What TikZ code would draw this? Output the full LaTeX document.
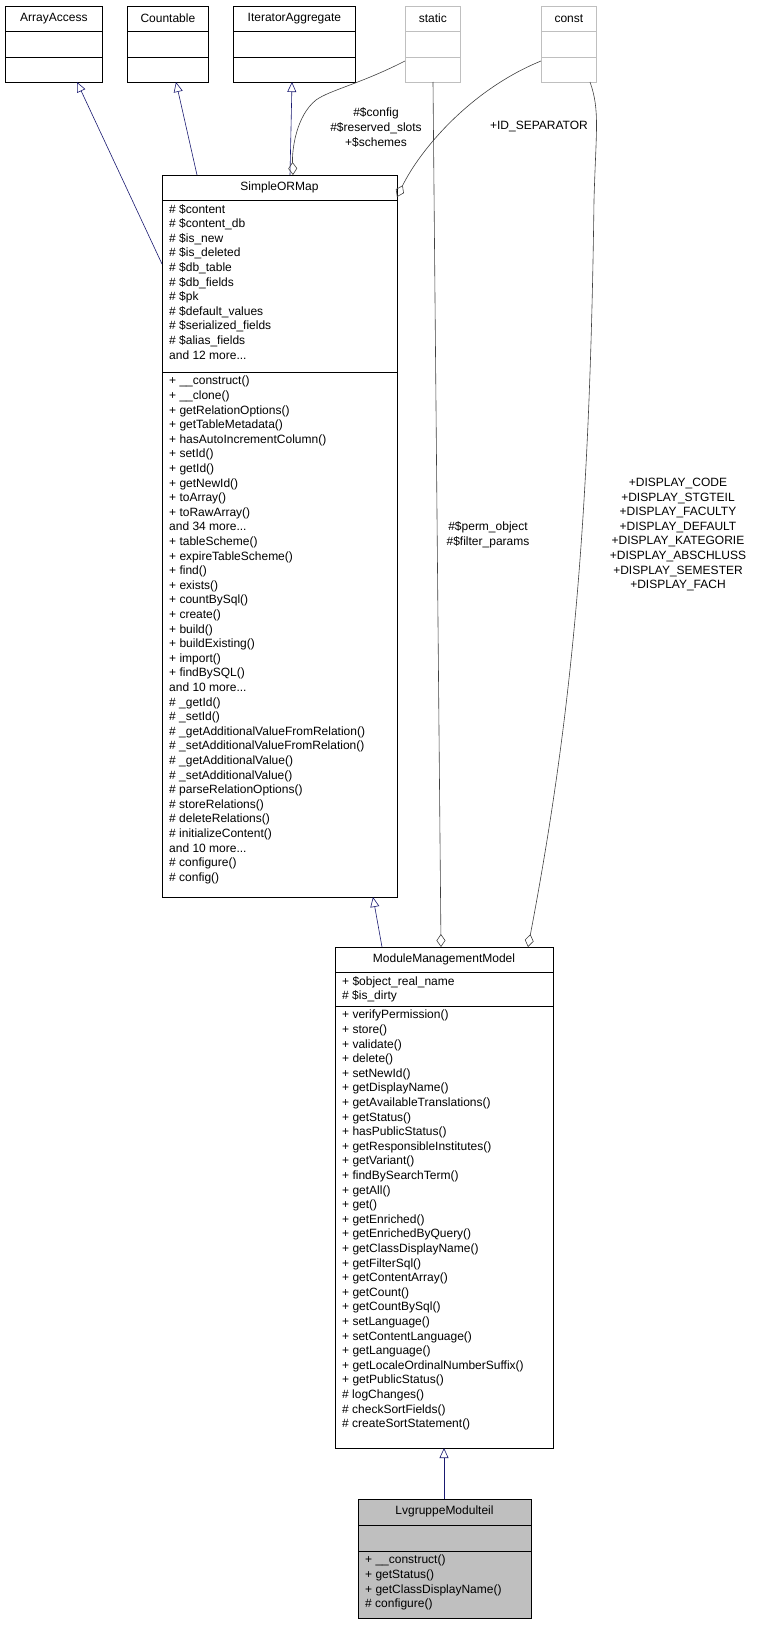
\documentclass[tikz,border=0pt]{standalone}
\usepackage{fontspec}
\setmainfont{Liberation Sans}
\usetikzlibrary{arrows.meta}
\definecolor{inhcol}{HTML}{191970}
\definecolor{aggcol}{HTML}{404040}
\definecolor{ghost}{HTML}{BFBFBF}
\tikzset{
  umlbox/.style={draw=black, thick, inner sep=0pt, anchor=north west},
  ghostbox/.style={draw=ghost, thick, inner sep=0pt, anchor=north west},
  title/.style={inner sep=0pt, font=\fontsize{12}{14.6}\selectfont},
  members/.style={inner sep=0pt, anchor=north west, align=left, font=\fontsize{12}{14.6}\selectfont},
  elabel/.style={inner sep=0pt, align=center, font=\fontsize{12}{14.6}\selectfont},
  inherit/.style={draw=inhcol, semithick, -{Triangle[open, length=10pt, width=9pt]}},
  aggr/.style={draw=aggcol, semithick, -{Diamond[open, length=13pt, width=9pt]}},
}
\begin{document}
\begin{tikzpicture}[x=1pt, y=-1pt]
  \useasboundingbox (0,0) rectangle (761,1625);

  %% interfaces on top
  \node[umlbox, minimum width=97pt, minimum height=76pt] (aa) at (5,6) {};
  \node[umlbox, minimum width=81pt, minimum height=76pt] (cnt) at (127,6) {};
  \node[umlbox, minimum width=122pt, minimum height=76pt] (ita) at (233,6) {};
  \node[ghostbox, minimum width=55pt, minimum height=76pt] (stat) at (405,6) {};
  \node[ghostbox, minimum width=55pt, minimum height=76pt] (cst) at (541,6) {};
  \foreach \n/\t in {aa/ArrayAccess, cnt/Countable, ita/IteratorAggregate, stat/static, cst/const} {
    \node[title] at ([yshift=-12.5pt]\n.north) {\t};
  }
  \foreach \y in {31,57} {
    \draw[thick] (5,\y) -- (102,\y);
    \draw[thick] (127,\y) -- (208,\y);
    \draw[thick] (233,\y) -- (355,\y);
    \draw[thick, ghost] (405,\y) -- (460,\y);
    \draw[thick, ghost] (541,\y) -- (596,\y);
  }

  %% SimpleORMap
  \node[umlbox, minimum width=235pt, minimum height=722pt] (sorm) at (162,175) {};
  \node[title] at (279.5,187.5) {SimpleORMap};
  \draw[thick] (162,200) -- (397,200);
  \draw[thick] (162,372) -- (397,372);
  \node[members] (sormattr) at (169,204) {\# \$content\\\# \$content\_db\\\# \$is\_new\\\# \$is\_deleted\\\# \$db\_table\\\# \$db\_fields\\\# \$pk\\\# \$default\_values\\\# \$serialized\_fields\\\# \$alias\_fields\\and 12 more...};
  \node[members] (sormops) at (169,376) {+ \_\_construct()\\+ \_\_clone()\\+ getRelationOptions()\\+ getTableMetadata()\\+ hasAutoIncrementColumn()\\+ setId()\\+ getId()\\+ getNewId()\\+ toArray()\\+ toRawArray()\\and 34 more...\\+ tableScheme()\\+ expireTableScheme()\\+ find()\\+ exists()\\+ countBySql()\\+ create()\\+ build()\\+ buildExisting()\\+ import()\\+ findBySQL()\\and 10 more...\\\# \_getId()\\\# \_setId()\\\# \_getAdditionalValueFromRelation()\\\# \_setAdditionalValueFromRelation()\\\# \_getAdditionalValue()\\\# \_setAdditionalValue()\\\# parseRelationOptions()\\\# storeRelations()\\\# deleteRelations()\\\# initializeContent()\\and 10 more...\\\# configure()\\\# config()};

  %% ModuleManagementModel
  \node[umlbox, minimum width=218pt, minimum height=501pt] (mmm) at (335,947) {};
  \node[title] at (444,959.5) {ModuleManagementModel};
  \draw[thick] (335,972) -- (553,972);
  \draw[thick] (335,1006) -- (553,1006);
  \node[members] (mmmattr) at (342,976) {+ \$object\_real\_name\\\# \$is\_dirty};
  \node[members] (mmmops) at (342,1010) {+ verifyPermission()\\+ store()\\+ validate()\\+ delete()\\+ setNewId()\\+ getDisplayName()\\+ getAvailableTranslations()\\+ getStatus()\\+ hasPublicStatus()\\+ getResponsibleInstitutes()\\+ getVariant()\\+ findBySearchTerm()\\+ getAll()\\+ get()\\+ getEnriched()\\+ getEnrichedByQuery()\\+ getClassDisplayName()\\+ getFilterSql()\\+ getContentArray()\\+ getCount()\\+ getCountBySql()\\+ setLanguage()\\+ setContentLanguage()\\+ getLanguage()\\+ getLocaleOrdinalNumberSuffix()\\+ getPublicStatus()\\\# logChanges()\\\# checkSortFields()\\\# createSortStatement()};

  %% LvgruppeModulteil
  \node[umlbox, fill=ghost, minimum width=173pt, minimum height=119pt] (lvg) at (358,1499) {};
  \node[title] at (444.5,1511.5) {LvgruppeModulteil};
  \draw[thick] (358,1525) -- (531,1525);
  \draw[thick] (358,1551) -- (531,1551);
  \node[members] (lvgops) at (365,1555) {+ \_\_construct()\\+ getStatus()\\+ getClassDisplayName()\\\# configure()};

  %% anchor points
  \coordinate (aaIn) at (77,82);
  \coordinate (sormL) at (162,264);
  \coordinate (cntIn) at (176,82);
  \coordinate (sormT1) at (197,175);
  \coordinate (itaIn) at (292,82);
  \coordinate (sormT2) at (290,175);
  \coordinate (sormT3) at (293,175);
  \coordinate (sormR) at (397,197);
  \coordinate (statOut) at (405,61);
  \coordinate (statBot) at (433,82);
  \coordinate (cstOut) at (541,61);
  \coordinate (cstBot) at (590,82);
  \coordinate (sormB) at (373,897);
  \coordinate (mmmT1) at (382,947);
  \coordinate (mmmT2) at (441,947);
  \coordinate (mmmT3) at (528,947);
  \coordinate (mmmB) at (444,1448);
  \coordinate (lvgT) at (444,1499);

  %% inheritance
  \draw[inherit] (sormL) -- (aaIn);
  \draw[inherit] (sormT1) -- (cntIn);
  \draw[inherit] (sormT2) -- (itaIn);
  \draw[inherit] (mmmT1) -- (sormB);
  \draw[inherit] (lvgT) -- (mmmB);

  %% aggregation
  \draw[aggr] (statOut) .. controls (360,84) and (330,90) .. (316,100)
     .. controls (296,116) and (292,150) .. (sormT3);
  \draw[aggr] (cstOut) .. controls (470,90) and (420,150) .. (sormR);
  \draw[aggr] (statBot) -- (mmmT2);
  \draw[aggr] (cstBot) .. controls (600,110) and (596,130) .. (594,200)
     .. controls (590,500) and (575,700) .. (mmmT3);

  %% labels
  \node[elabel] (lblcfg) at (376,127.5) {\#\$config\\\#\$reserved\_slots\\+\$schemes};
  \node[elabel] (lblid) at (539,127) {+ID\_SEPARATOR};
  \node[elabel] (lblperm) at (488,535) {\#\$perm\_object\\\#\$filter\_params};
  \node[elabel] (lbldisp) at (678,534.5) {+DISPLAY\_CODE\\+DISPLAY\_STGTEIL\\+DISPLAY\_FACULTY\\+DISPLAY\_DEFAULT\\+DISPLAY\_KATEGORIE\\+DISPLAY\_ABSCHLUSS\\+DISPLAY\_SEMESTER\\+DISPLAY\_FACH};
\end{tikzpicture}
\end{document}
